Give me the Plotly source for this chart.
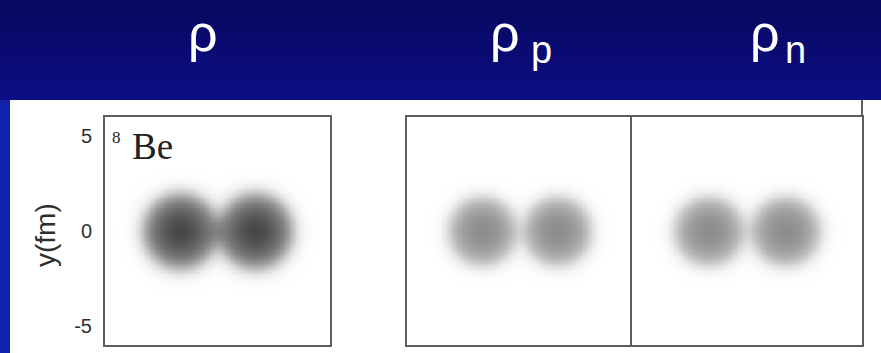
import numpy as np
import plotly.graph_objects as go

W, H = 881, 353

# Panel headers: density symbol and subscript
header_symbol = ["ρ", "ρ", "ρ"]
header_sub = ["", "p", "n"]

# 8Be: two alpha clusters on the x axis (fm)
cluster_x = [-2.0, 2.0]
cluster_y = [0.0, 0.0]

# Cluster profile for each panel (rho, rho_p, rho_n):
# Fermi fall-off times a mildly peaked core
peak_density = [0.72, 0.45, 0.45]   # arb. units
half_radius = [2.0, 1.8, 1.8]       # fm
diffuseness = [0.25, 0.24, 0.24]    # fm
core_floor = [0.63, 0.63, 0.63]     # flat part of the core
core_width = [1.5, 1.5, 1.5]        # fm

axis_range = [-6, 6]
y_tick_vals = [-5, 0, 5]
y_tick_text = ["-5", "0", "5"]

grid = np.linspace(axis_range[0], axis_range[1], 181)
X, Y = np.meshgrid(grid, grid)


def density(i):
    z = np.zeros_like(X)
    for cx, cy in zip(cluster_x, cluster_y):
        r = np.sqrt((X - cx) ** 2 + (Y - cy) ** 2)
        core = core_floor[i] + (1 - core_floor[i]) * np.exp(-(r / core_width[i]) ** 2)
        z += peak_density[i] * core / (1.0 + np.exp((r - half_radius[i]) / diffuseness[i]))
    return z


def fx(px):
    return px / W


def fy(py):
    return 1 - py / H


panel_x_px = [(105, 330), (407, 632), (632, 862)]
panel_y_px = (117, 345)

fig = go.Figure()
border = "#5e5e5e"
tick_font = dict(family="Liberation Sans, Arial, sans-serif", size=20, color="#2e2e2e")

for i in range(3):
    n = "" if i == 0 else str(i + 1)
    fig.add_trace(go.Heatmap(
        x=grid, y=grid, z=density(i),
        zmin=0, zmax=1,
        colorscale=[[0, "#ffffff"], [1, "#000000"]],
        zsmooth="best", showscale=False, hoverinfo="skip",
        xaxis="x" + n, yaxis="y" + n,
    ))
    x0, x1 = panel_x_px[i]
    fig.layout["xaxis" + n] = dict(
        domain=[fx(x0), fx(x1)], range=axis_range, anchor="y" + n,
        showline=True, mirror=True, linecolor=border, linewidth=2,
        showgrid=False, zeroline=False, showticklabels=False, ticks="",
    )
    fig.layout["yaxis" + n] = dict(
        domain=[fy(panel_y_px[1]), fy(panel_y_px[0])], range=axis_range,
        anchor="x" + n,
        showline=True, mirror=True, linecolor=border, linewidth=2,
        showgrid=False, zeroline=False, ticks="",
        showticklabels=(i == 0),
        tickvals=y_tick_vals, ticktext=y_tick_text,
        tickfont=tick_font, ticklabelstandoff=7,
    )

shapes = []
# dark blue title band with a gentle vertical gradient (overlapping strips)
band_bot = 100
n_bands = 12
c_top = np.array([8, 8, 96])
c_bot = np.array([12, 14, 132])
for k in range(n_bands):
    t = k / (n_bands - 1)
    c = (c_top * (1 - t) + c_bot * t).astype(int)
    y0 = band_bot * k / n_bands
    shapes.append(dict(type="rect", xref="paper", yref="paper",
                       x0=0, x1=1, y0=fy(band_bot), y1=fy(y0),
                       fillcolor="rgb(%d,%d,%d)" % tuple(c), line=dict(width=0),
                       layer="below"))
# blue strip on the left edge
shapes.append(dict(type="rect", xref="paper", yref="paper",
                   x0=0, x1=fx(10), y0=0, y1=fy(band_bot),
                   fillcolor="#1222a8", line=dict(width=0), layer="below"))
# right frame line running up to the title band
shapes.append(dict(type="line", xref="paper", yref="paper",
                   x0=fx(862), x1=fx(862), y0=fy(panel_y_px[0]), y1=fy(band_bot),
                   line=dict(color=border, width=2)))

head_font = "Liberation Sans, Arial, sans-serif"
head_x = [203, 505, 765]
sub_x = [None, 541, 795]
annotations = []
for i in range(3):
    annotations.append(dict(
        text=header_symbol[i], x=fx(head_x[i]), y=fy(33), xref="paper", yref="paper",
        xanchor="center", yanchor="middle", showarrow=False,
        font=dict(family=head_font, size=52, color="white")))
    if header_sub[i]:
        annotations.append(dict(
            text=header_sub[i], x=fx(sub_x[i]), y=fy(50), xref="paper", yref="paper",
            xanchor="center", yanchor="middle", showarrow=False,
            font=dict(family=head_font, size=38, color="white")))

annotations += [
    dict(text="8", x=fx(116), y=fy(137), xref="paper", yref="paper",
         xanchor="center", yanchor="middle", showarrow=False,
         font=dict(family="Liberation Serif, Times New Roman, serif", size=17, color="#222222")),
    dict(text="Be", x=fx(152), y=fy(146), xref="paper", yref="paper",
         xanchor="center", yanchor="middle", showarrow=False,
         font=dict(family="Liberation Serif, Times New Roman, serif", size=37, color="#222222")),
    dict(text="y(fm)", x=fx(45), y=fy(235), xref="paper", yref="paper",
         xanchor="center", yanchor="middle", showarrow=False, textangle=-90,
         font=dict(family="Liberation Sans, Arial, sans-serif", size=28, color="#2e2e2e")),
]

fig.update_layout(
    width=W, height=H,
    margin=dict(l=0, r=0, t=0, b=0),
    paper_bgcolor="white", plot_bgcolor="white",
    shapes=shapes, annotations=annotations,
    showlegend=False,
)

fig.write_html("out.html")
